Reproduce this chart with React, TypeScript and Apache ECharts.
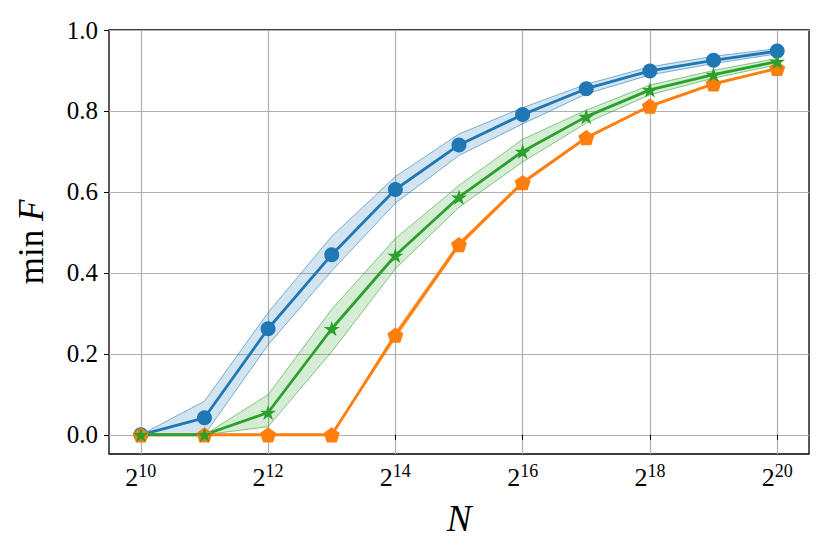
import React, { useEffect, useRef } from "react";
import * as echarts from "echarts";

// x values are log2(N)
const log2N = [10, 11, 12, 13, 14, 15, 16, 17, 18, 19, 20];

const blueMean = [0, 0.042, 0.262, 0.445, 0.606, 0.716, 0.791, 0.855, 0.899, 0.925, 0.948];
const blueLow = [0, 0, 0.222, 0.405, 0.572, 0.69, 0.768, 0.842, 0.889, 0.917, 0.941];
const blueHigh = [0, 0.083, 0.302, 0.49, 0.638, 0.743, 0.808, 0.866, 0.909, 0.935, 0.954];

const orangeMean = [0, 0, 0, 0, 0.246, 0.47, 0.623, 0.734, 0.812, 0.867, 0.905];
const orangeLow = [0, 0, 0, 0, 0.238, 0.464, 0.619, 0.731, 0.81, 0.865, 0.903];
const orangeHigh = [0, 0, 0, 0, 0.254, 0.476, 0.627, 0.737, 0.814, 0.869, 0.907];

const greenMean = [0, 0, 0.055, 0.262, 0.443, 0.587, 0.7, 0.786, 0.852, 0.89, 0.922];
const greenLow = [0, 0, 0.02, 0.205, 0.41, 0.562, 0.674, 0.77, 0.84, 0.881, 0.914];
const greenHigh = [0, 0, 0.099, 0.31, 0.485, 0.616, 0.73, 0.802, 0.864, 0.9, 0.93];

const xTicks = [10, 12, 14, 16, 18, 20];
const yTicks = [0, 0.2, 0.4, 0.6, 0.8, 1.0];

const BLUE = "#1f77b4";
const ORANGE = "#ff7f0e";
const GREEN = "#2ca02c";

const PENTAGON =
  "path://M0,-1 L0.951,-0.309 L0.588,0.809 L-0.588,0.809 L-0.951,-0.309 Z";
const STAR =
  "path://M0,-1 L0.2245,-0.309 L0.951,-0.309 L0.3633,0.118 L0.588,0.809 L0,0.382 L-0.588,0.809 L-0.3633,0.118 L-0.951,-0.309 L-0.2245,-0.309 Z";

const FONT = "'Liberation Serif', 'DejaVu Serif', serif";

function bandSeries(lo: number[], hi: number[], color: string, fill: string) {
  return {
    type: "custom",
    silent: true,
    data: log2N.map((x, i) => [x, lo[i], hi[i]]),
    encode: { x: 0, y: [1, 2] },
    renderItem: (params: any, api: any) => {
      if (params.dataIndex !== 0) return null;
      const up = log2N.map((x, i) => api.coord([x, hi[i]]));
      const dn = log2N.map((x, i) => api.coord([x, lo[i]])).reverse();
      return {
        type: "polygon",
        shape: { points: up.concat(dn) },
        style: { fill, stroke: color, lineWidth: 0.8, opacity: 1 },
      };
    },
  };
}

function lineSeries(vals: number[], color: string, symbol: string, size: number) {
  return {
    type: "line",
    data: log2N.map((x, i) => [x, vals[i]]),
    symbol,
    symbolSize: size,
    symbolKeepAspect: true,
    showAllSymbol: true,
    lineStyle: { color, width: 2.8 },
    itemStyle: { color, borderWidth: 0 },
    silent: true,
  };
}

export default function App() {
  const ref = useRef<HTMLDivElement>(null);
  useEffect(() => {
    if (!ref.current) return;
    const chart = echarts.init(ref.current, null, { renderer: "svg" });
    chart.setOption({
      animation: false,
      backgroundColor: "#fff",
      textStyle: { fontFamily: FONT, color: "#000" },
      grid: {
        left: 109,
        right: 21,
        top: 30,
        bottom: 100,
        show: true,
        borderColor: "#000",
        borderWidth: 1.3,
        backgroundColor: "transparent",
      },
      xAxis: {
        type: "value",
        min: 9.5,
        max: 20.5,
        axisLine: { show: false },
        axisTick: {
          show: true,
          customValues: xTicks,
          length: 5,
          lineStyle: { color: "#000", width: 1 },
        },
        splitLine: { show: true, lineStyle: { color: "#b0b0b0", width: 1.2 } },
        axisLabel: {
          customValues: xTicks,
          margin: 8,
          fontFamily: FONT,
          formatter: (v: number) => `{b|2}{s|${v}}`,
          rich: {
            b: { fontFamily: FONT, fontSize: 26, color: "#000", lineHeight: 28, verticalAlign: "bottom" },
            s: { fontFamily: FONT, fontSize: 18, color: "#000", lineHeight: 18, verticalAlign: "top" },
          },
        },
        name: "N",
        nameLocation: "middle",
        nameGap: 46,
        nameTextStyle: {
          fontFamily: FONT,
          fontStyle: "italic",
          fontSize: 37,
          color: "#000",
        },
      },
      yAxis: {
        type: "value",
        min: -0.0475,
        max: 1.0,
        axisLine: { show: false },
        axisTick: {
          show: true,
          customValues: yTicks,
          length: 5,
          lineStyle: { color: "#000", width: 1 },
        },
        splitLine: { show: true, lineStyle: { color: "#b0b0b0", width: 1.2 } },
        axisLabel: {
          customValues: yTicks,
          margin: 11,
          fontFamily: FONT,
          fontSize: 25,
          color: "#000",
          formatter: (v: number) => v.toFixed(1),
        },
        name: "{r|min }{i|F}",
        nameLocation: "middle",
        nameRotate: 90,
        nameGap: 60,
        nameTextStyle: {
          fontFamily: FONT,
          rich: {
            r: { fontFamily: FONT, fontSize: 35, color: "#000" },
            i: { fontFamily: FONT, fontSize: 35, fontStyle: "italic", color: "#000" },
          },
        },
      },
      series: [
        bandSeries(blueLow, blueHigh, "rgba(31,119,180,0.7)", "rgba(31,119,180,0.2)"),
        lineSeries(blueMean, BLUE, "circle", 15),
        bandSeries(orangeLow, orangeHigh, "rgba(255,127,14,0.7)", "rgba(255,127,14,0.2)"),
        lineSeries(orangeMean, ORANGE, PENTAGON, 16),
        bandSeries(greenLow, greenHigh, "rgba(44,160,44,0.7)", "rgba(44,160,44,0.2)"),
        lineSeries(greenMean, GREEN, STAR, 16),
      ],
    });
    return () => chart.dispose();
  }, []);
  return <div ref={ref} style={{ width: 830, height: 554, margin: -8 }} />;
}
